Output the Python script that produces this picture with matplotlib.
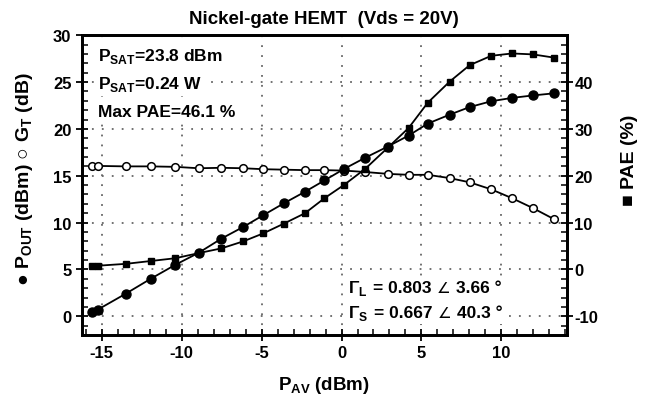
import matplotlib
matplotlib.use('Agg')
import matplotlib.pyplot as plt
from matplotlib.ticker import MultipleLocator
from matplotlib.offsetbox import TextArea, HPacker, AnnotationBbox

# input power (dBm)
p_av = [-15.6, -15.25, -13.5, -11.95, -10.4, -8.93, -7.52, -6.15, -4.9, -3.6,
        -2.29, -1.07, 0.18, 1.49, 2.9, 4.2, 5.4, 6.77, 8.02, 9.37, 10.68, 11.98, 13.32]
# output power (dBm)
p_out = [0.43, 0.72, 2.42, 4.0, 5.5, 6.79, 8.29, 9.54, 10.79, 12.07,
         13.29, 14.5, 15.75, 16.93, 18.12, 19.29, 20.57, 21.52, 22.33, 22.95, 23.31, 23.57, 23.8]
# transducer gain (dB)
gain = [16.05, 16.05, 16.0, 16.0, 15.95, 15.8, 15.85, 15.8, 15.7, 15.65,
        15.6, 15.6, 15.55, 15.4, 15.2, 15.1, 15.1, 14.75, 14.3, 13.55, 12.6, 11.55, 10.35]
# power added efficiency (%)
pae = [0.8, 0.8, 1.2, 1.8, 2.4, 3.5, 4.5, 6.0, 7.7, 9.8,
       12.0, 15.2, 18.1, 21.5, 26.0, 30.2, 35.6, 40.1, 43.6, 45.6, 46.1, 45.9, 45.2]

plt.rcParams['font.family'] = ['Liberation Sans', 'DejaVu Sans']
plt.rcParams['font.weight'] = 'bold'
plt.rcParams['axes.labelweight'] = 'bold'
plt.rcParams['mathtext.fontset'] = 'custom'
plt.rcParams['mathtext.rm'] = 'Liberation Sans:bold'
plt.rcParams['mathtext.bf'] = 'Liberation Sans:bold'
plt.rcParams['axes.unicode_minus'] = False


def gamma_label(ax, sub, mag, ang, x, y):
    # split so the angle sign is drawn as plain text (font fallback works there)
    props = dict(fontsize=12.5, fontweight='bold')
    parts = [TextArea(r'Γ$_{\mathbf{%s}}$' % sub, textprops=props),
             TextArea('= %s' % mag, textprops=props),
             TextArea('∠', textprops=dict(fontsize=11, fontweight='normal',
                                          family=['DejaVu Sans'])),
             TextArea('%s °' % ang, textprops=props)]
    pack = HPacker(children=parts, align='baseline', pad=0, sep=4)
    ab = AnnotationBbox(pack, (x, y), xycoords='data', box_alignment=(0, 0.5),
                        frameon=True, pad=0.15,
                        bboxprops=dict(facecolor='white', edgecolor='none'))
    ax.add_artist(ab)


def main():
    fig = plt.figure(figsize=(6.5, 4.02), dpi=100)
    ax = fig.add_axes([0.126, 0.164, 0.746, 0.746])
    ax2 = ax.twinx()

    ax.plot(p_av, gain, '-o', color='black', lw=1.3, ms=5.5,
            mfc='white', mec='black', mew=1.1, zorder=3)
    ax.plot(p_av, p_out, '-o', color='black', lw=1.3, ms=6.5, zorder=3)
    ax2.plot(p_av, pae, '-s', color='black', lw=1.3, ms=3.8, zorder=3)

    ax.set_xlim(-16.25, 14.1)
    ax.set_ylim(-2, 30)
    ax2.set_ylim(-14, 50)

    ax.xaxis.set_major_locator(MultipleLocator(5))
    ax.xaxis.set_minor_locator(MultipleLocator(1))
    ax.yaxis.set_major_locator(MultipleLocator(5))
    ax.yaxis.set_minor_locator(MultipleLocator(1))
    ax2.yaxis.set_minor_locator(MultipleLocator(2))
    ax2.set_yticks([-10, 0, 10, 20, 30, 40])

    ax.tick_params(which='major', direction='inout', length=9, width=1.3,
                   labelsize=12, pad=3)
    ax.tick_params(which='minor', direction='in', length=4, width=1.1)
    ax2.tick_params(which='major', direction='inout', length=9, width=1.3,
                    labelsize=12, pad=1)
    ax2.tick_params(which='minor', direction='in', length=4, width=1.1)

    for a in (ax, ax2):
        for s in a.spines.values():
            s.set_linewidth(2)

    ax.set_yticks([0, 5, 10, 15, 20, 25, 30])
    ax.grid(True, which='major', color='#666666', linestyle=(0, (1, 4.5)), lw=1.3)
    ax.set_axisbelow(True)

    box = dict(facecolor='white', edgecolor='none', pad=2)
    ax.text(-15.25, 27.8, r'P$_{\mathbf{SAT}}$=23.8 dBm', fontsize=12.5,
            va='center', bbox=box)
    ax.text(-15.25, 24.8, r'P$_{\mathbf{SAT}}$=0.24 W', fontsize=12.5,
            va='center', bbox=box)
    ax.text(-15.25, 21.9, 'Max PAE=46.1 %', fontsize=12.5, va='center', bbox=box)
    gamma_label(ax, 'L', '0.803', '3.66', 0.4, 3.1)
    gamma_label(ax, 'S', '0.667', '40.3', 0.4, 0.4)

    ax.set_title('Nickel-gate HEMT  (Vds = 20V)', fontsize=13.5, fontweight='bold', pad=9)
    ax.set_xlabel(r'P$_{\mathbf{AV}}$ (dBm)', fontsize=13.5, fontweight='bold', labelpad=10)
    fig.text(0.037, 0.555, r'● P$_{\mathbf{OUT}}$ (dBm) ○ G$_{\mathbf{T}}$ (dB)',
             rotation=90, fontsize=14, ha='center', va='center')
    fig.text(0.968, 0.6, '■ PAE (%)', rotation=90, fontsize=14,
             ha='center', va='center')

    fig.savefig('out.png', dpi=100)


if __name__ == '__main__':
    main()
